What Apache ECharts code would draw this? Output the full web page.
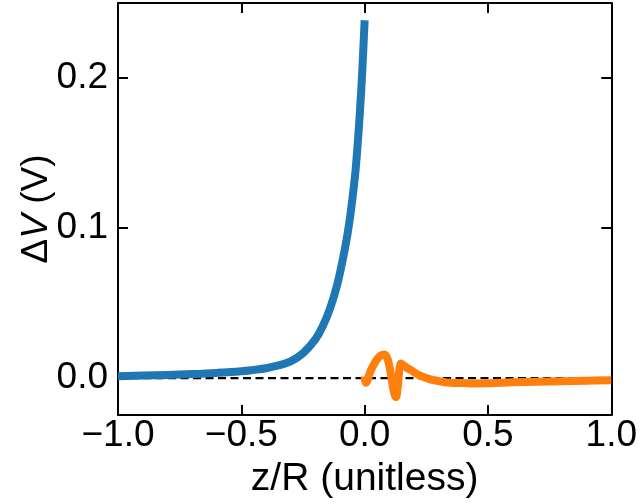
<!DOCTYPE html>
<html>
<head>
<meta charset="utf-8">
<script src="https://cdn.jsdelivr.net/npm/echarts@6/dist/echarts.min.js"></script>
<style>html,body{margin:0;padding:0;background:#fff}#c{width:640px;height:504px}</style>
</head>
<body>
<div id="c"></div>
<script>
// Blue curve (z/R < 0)
const blueX = [-1.0, -0.9, -0.8, -0.7, -0.6, -0.5, -0.45, -0.4, -0.35, -0.3, -0.25, -0.2, -0.17, -0.14, -0.11, -0.08, -0.06, -0.04, -0.03, -0.02, -0.01, 0.0];
const blueY = [0.0013, 0.0017, 0.0021, 0.0027, 0.0035, 0.0046, 0.0055, 0.0066, 0.0085, 0.0112, 0.0166, 0.0258, 0.0345, 0.0465, 0.0630, 0.0860, 0.1060, 0.1330, 0.1520, 0.1750, 0.2030, 0.2380];
// Orange curve (z/R > 0)
const orangeX = [0.0, 0.004, 0.01, 0.02, 0.033, 0.05, 0.065, 0.08, 0.092, 0.1, 0.107, 0.115, 0.122, 0.127, 0.132, 0.137, 0.142, 0.147, 0.155, 0.17, 0.188, 0.21, 0.235, 0.26, 0.28, 0.32, 0.35, 0.4, 0.45, 0.5, 0.6, 0.7, 0.8, 0.9, 1.0];
const orangeY = [0.0012, -0.0030, -0.0020, 0.0030, 0.0078, 0.0125, 0.0150, 0.0157, 0.0132, 0.0082, 0.0020, -0.0060, -0.0112, -0.0125, -0.0090, -0.0010, 0.0070, 0.0098, 0.0090, 0.0070, 0.0053, 0.0030, 0.0010, -0.0005, -0.0013, -0.0025, -0.0030, -0.0033, -0.0035, -0.0034, -0.0028, -0.0024, -0.0020, -0.0017, -0.0014];
// Zero reference line
const zeroX = [-1.0, 1.0];
const zeroY = [0.0, 0.0];
// Tick labels
const xTicks = [-1.0, -0.5, 0.0, 0.5, 1.0];
const xTickLabels = ['\u22121.0', '\u22120.5', '0.0', '0.5', '1.0'];
const yTicks = [0.0, 0.1, 0.2];
const yTickLabels = ['0.0', '0.1', '0.2'];

const FONT = "'Liberation Sans', Arial, sans-serif";
const zip = (a, b) => a.map((v, i) => [v, b[i]]);
const xLab = v => { const i = xTicks.findIndex(t => Math.abs(t - v) < 1e-9); return i >= 0 ? xTickLabels[i] : ''; };
const yLab = v => { const i = yTicks.findIndex(t => Math.abs(t - v) < 1e-9); return i >= 0 ? yTickLabels[i] : ''; };

const axisLine = { show: true, onZero: false, lineStyle: { color: '#000', width: 2 } };
const tick = { show: true, inside: true, length: 10, lineStyle: { color: '#000', width: 2 } };

const chart = echarts.init(document.getElementById('c'), null, { renderer: 'canvas' });
chart.setOption({
  animation: false,
  backgroundColor: '#fff',
  grid: { left: 118, right: 25, top: 3, bottom: 89, containLabel: false },
  xAxis: [
    {
      type: 'value', position: 'bottom', min: -1, max: 1, interval: 0.5,
      axisLine, axisTick: tick, splitLine: { show: false },
      axisLabel: { show: true, margin: 2, color: '#000', fontSize: 37, fontFamily: FONT, formatter: xLab, showMinLabel: true, showMaxLabel: true, hideOverlap: false },
      name: 'z/R (unitless)', nameLocation: 'middle', nameGap: 45, nameMoveOverlap: false,
      nameTextStyle: { color: '#000', fontSize: 39, fontFamily: FONT }
    },
    {
      type: 'value', position: 'top', min: -1, max: 1, interval: 0.5,
      axisLine, axisTick: tick, splitLine: { show: false }, axisLabel: { show: false }
    }
  ],
  yAxis: [
    {
      type: 'value', position: 'left', min: -0.0245, max: 0.2495,
      axisLine, splitLine: { show: false },
      axisTick: Object.assign({ customValues: yTicks }, tick),
      axisLabel: { show: true, customValues: yTicks, margin: 10, color: '#000', fontSize: 37, fontFamily: FONT, formatter: yLab },
      name: '{a|\u0394}{i|V}{a| (V)}', nameLocation: 'middle', nameRotate: 90, nameGap: 63, nameMoveOverlap: false,
      nameTextStyle: {
        color: '#000', fontSize: 37, fontFamily: FONT,
        rich: {
          a: { fontSize: 37, fontFamily: FONT, color: '#000' },
          i: { fontSize: 37, fontFamily: FONT, fontStyle: 'italic', color: '#000' }
        }
      }
    },
    {
      type: 'value', position: 'right', min: -0.0245, max: 0.2495,
      axisLine, splitLine: { show: false },
      axisTick: Object.assign({ customValues: yTicks }, tick),
      axisLabel: { show: false }
    }
  ],
  series: [
    {
      type: 'line', xAxisIndex: 0, yAxisIndex: 0, data: zip(zeroX, zeroY),
      showSymbol: false, silent: true,
      lineStyle: { color: '#000', width: 2.2, type: [8, 4.5] }, z: 1
    },
    {
      type: 'line', xAxisIndex: 0, yAxisIndex: 0, data: zip(blueX, blueY),
      showSymbol: false, smooth: 0.4,
      lineStyle: { color: '#1f77b4', width: 8, cap: 'butt', join: 'round' }, z: 2
    },
    {
      type: 'line', xAxisIndex: 0, yAxisIndex: 0, data: zip(orangeX, orangeY),
      showSymbol: false, smooth: 0.4,
      lineStyle: { color: '#ff7f0e', width: 8, cap: 'butt', join: 'round' }, z: 3
    }
  ]
});
</script>
</body>
</html>
